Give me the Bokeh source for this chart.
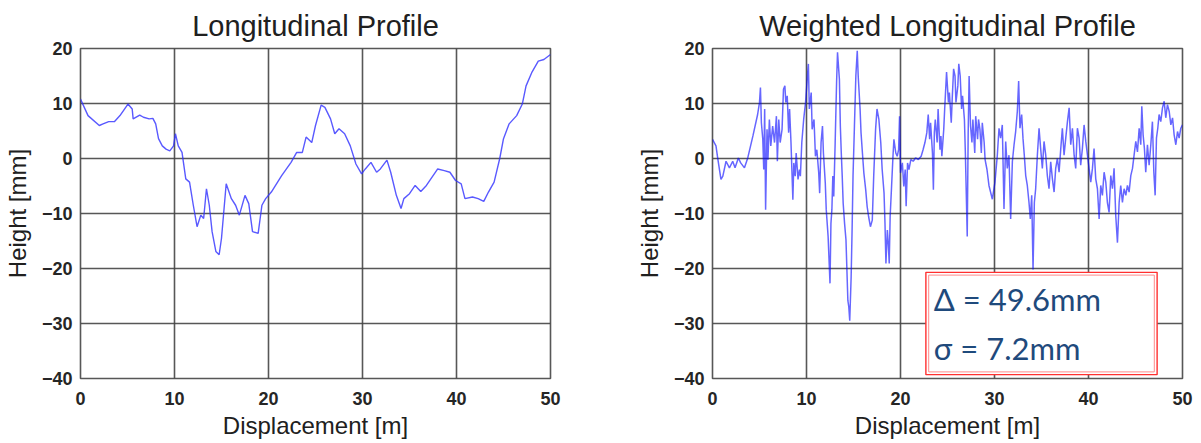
from bokeh.plotting import figure
from bokeh.layouts import row
from bokeh.models import FixedTicker, BoxAnnotation, Label, Range1d
from bokeh.embed import file_html
from bokeh.resources import INLINE

# ---------------- data ----------------
x_ticks = [0, 10, 20, 30, 40, 50]
y_ticks = [-40, -30, -20, -10, 0, 10, 20]
titles = ["Longitudinal Profile", "Weighted Longitudinal Profile"]
x_label = "Displacement [m]"
y_label = "Height [mm]"
stats = ["\u0394 = 49.6mm", "\u03c3 = 7.2mm"]

# Longitudinal profile
lp_x = [0, 0.8, 2.0, 2.4, 3.0, 3.6, 4.2, 5.05, 5.5, 5.6, 6.3, 6.7, 7.3, 7.7, 8.0, 8.3,
        8.7, 9.1, 9.5, 9.9, 10.1, 10.4, 10.8, 11.2, 11.6, 12.0, 12.4, 12.8, 13.1, 13.4,
        13.7, 14.0, 14.4, 14.75, 15.0, 15.5, 16.05, 16.5, 16.9, 17.5, 17.9, 18.3, 18.9,
        19.3, 19.7, 20.3, 21.4, 22.4, 23.0, 23.6, 24.0, 24.6, 25.0, 25.6, 26.0, 26.6,
        27.05, 27.5, 28.1, 28.7, 29.3, 29.9, 30.3, 30.9, 31.5, 31.9, 32.6, 33.0, 33.6,
        34.1, 34.4, 35.0, 35.6, 36.2, 36.8, 37.4, 38.0, 38.7, 39.3, 39.9, 40.5, 40.9,
        41.7, 42.3, 42.9, 43.4, 44.0, 44.6, 45.0, 45.6, 46.4, 47.0, 47.4, 48.0, 48.7,
        49.3, 50.0]
lp_y = [10.8, 7.8, 6.0, 6.3, 6.7, 6.7, 7.8, 9.9, 9.0, 7.2, 7.9, 7.5, 7.2, 7.3, 6.3, 3.6,
        2.3, 1.7, 1.4, 2.3, 4.5, 2.3, 1.1, -3.7, -4.3, -8.5, -12.4, -10.3, -10.9, -5.5,
        -8.5, -13.3, -16.9, -17.5, -14.5, -4.6, -7.3, -8.5, -10.3, -6.7, -8.2, -13.3, -13.6,
        -8.5, -7.3, -6.1, -3.1, -0.7, 1.1, 1.1, 3.9, 2.9, 6.0, 9.7, 9.3, 7.2,
        4.5, 5.4, 4.5, 2.3, -1.0, -2.8, -1.9, -0.7, -2.5, -1.9, -0.3, -2.5, -6.7,
        -9.1, -7.3, -6.4, -4.9, -6.0, -4.9, -3.4, -1.9, -2.2, -2.5, -4.0, -4.6, -7.3,
        -7.0, -7.3, -7.8, -6.1, -4.3, 0.0, 3.6, 6.3, 7.8, 9.9, 13.2, 15.6, 17.7,
        18.0, 18.9]

# Weighted longitudinal profile
wp_x = [0.0, 0.37, 0.55, 0.9, 1.1, 1.44, 1.8, 2.15, 2.4, 2.75, 3.0, 3.4, 3.75, 4.3, 4.8,
        5.0, 5.1, 5.2, 5.35, 5.45, 5.55, 5.65, 5.8, 5.9, 6.05, 6.2, 6.4, 6.6, 6.8, 6.9,
        7.05, 7.2, 7.4, 7.55, 7.7, 7.8, 7.95, 8.1, 8.2, 8.35, 8.55, 8.65, 8.8, 8.9, 9.1,
        9.25, 9.35, 9.5, 9.7, 9.9, 10.1, 10.2, 10.3, 10.5, 10.6, 10.8, 10.95, 11.1, 11.3,
        11.4, 11.55, 11.7, 11.8, 12.0, 12.1, 12.3, 12.4, 12.5, 12.6, 12.7, 12.8, 12.9,
        13.05, 13.2, 13.3, 13.5, 13.6, 13.7, 13.8, 13.9, 14.05, 14.2, 14.3, 14.4, 14.5,
        14.6, 14.75, 14.85, 14.95, 15.1, 15.25, 15.4, 15.5, 15.7, 15.8, 15.95, 16.1, 16.3,
        16.45, 16.6, 16.8, 17.0, 17.15, 17.35, 17.5, 17.7, 17.9, 18.05, 18.25, 18.35,
        18.45, 18.6, 18.7, 18.8, 18.9, 19.05, 19.2, 19.3, 19.5, 19.65, 19.8,
        19.9, 20.0, 20.2, 20.35, 20.5, 20.6, 20.75, 20.9, 21.1, 21.35, 21.6, 21.9, 22.2,
        22.4, 22.6, 22.8, 22.95, 23.1, 23.2, 23.4, 23.5, 23.6, 23.7, 23.9, 24.0, 24.2,
        24.3, 24.4, 24.6, 24.7, 24.9, 25.1, 25.2, 25.4, 25.5, 25.65, 25.8, 25.9, 26.1,
        26.2, 26.35, 26.5, 26.6, 26.8, 26.9, 27.1, 27.2, 27.3, 27.45, 27.6, 27.7, 27.9,
        28.0, 28.2, 28.3, 28.45, 28.6, 28.7, 28.9, 29.0, 29.2, 29.41, 29.77,
        30.05, 30.3, 30.48, 30.65, 30.83, 31.01, 31.19, 31.36, 31.54, 31.72, 31.9, 32.08,
        32.25, 32.43, 32.57, 32.71, 32.89, 33.03, 33.17, 33.32, 33.49, 33.67, 33.81,
        33.96, 34.1, 34.24, 34.38, 34.56, 34.74, 34.91, 35.09, 35.27, 35.45, 35.62, 35.8,
        35.98, 36.16, 36.34, 36.51, 36.69, 36.87, 37.05, 37.22, 37.4, 37.58, 37.76,
        37.94, 38.11, 38.29, 38.47, 38.64, 38.82, 39.0, 39.17, 39.35, 39.53, 39.71,
        39.89, 40.06, 40.24, 40.42, 40.59, 40.77, 40.95, 41.13, 41.3, 41.48, 41.66,
        41.84, 42.01, 42.19, 42.37, 42.55, 42.72, 42.9, 43.08, 43.26, 43.43, 43.61,
        43.79, 43.97, 44.14, 44.32, 44.5, 44.68, 44.85, 45.03, 45.21, 45.39, 45.56,
        45.67, 45.81, 45.95, 46.09, 46.27, 46.45, 46.63, 46.8, 46.95, 47.09, 47.23,
        47.37, 47.51, 47.69, 47.87, 48.05, 48.22, 48.4, 48.58, 48.76, 48.94, 49.11,
        49.29, 49.47, 49.64, 49.82, 50.0]
wp_y = [3.5, 2.3, 0.1, -3.8, -3.2, -0.5, -1.7, -0.5, -1.7, 0.1, -0.8, -1.7, 0.1, 4.1, 8.0,
        10.2, 12.9, 6.5, 3.5, -2.0, 9.0, -9.3, 5.3, -0.2, 7.1, 2.3, 5.9, 2.9, 7.7, -0.5,
        7.1, 2.9, 5.3, 12.6, 13.2, 10.2, 11.4, 4.7, 9.0, 2.9, -7.5, -0.8, -3.2, 1.0, -3.8,
        -2.0, -3.2, 2.9, 7.1, 10.2, 15.0, 17.2, 9.0, 12.0, 5.3, 7.1, 0.4, 1.6, -2.6,
        -6.3, 2.9, 5.9, 1.0, -4.5, -9.3, -14.2, -18.5, -22.7, -11.8, -9.3, -3.2, -6.9,
        2.9, 13.8, 19.3, 14.4, 5.9, 1.0, -3.2, -8.1, -11.8, -14.8, -20.3, -25.8, -27.0,
        -29.5, -21.5, -13.0, -3.2, 5.9, 15.0, 19.6, 15.0, 9.0, 4.7, 1.0, -2.6, -5.7,
        -8.7, -10.5, -12.4, -11.2, -3.2, 5.3, 9.0, 7.1, 2.9, -2.0, -6.3, -11.8,
        -19.1, -13.0, -15.4, -19.1, -10.5, -5.1, 0.4, 3.5, 1.0, 0.4, 1.6,
        7.7, -2.6, -0.8, -5.1, -2.0, -8.7, -0.8, -2.0, -0.2, -0.5, 0.1, -0.2, 0.4,
        1.6, 2.9, 4.7, 8.0, 3.5, 6.5, 1.0, -5.7, 4.7, 7.1, 2.9, 9.0, 1.6,
        4.1, 0.4, 5.3, 9.0, 15.7, 10.2, 12.0, 6.5, 10.8, 16.3, 15.0, 10.2, 13.2,
        17.2, 15.0, 9.0, 11.4, 7.1, 1.0, -14.2, 4.7, 15.0, 5.9, 2.9, 7.1, 1.0,
        7.7, 3.5, 7.1, 5.3, 1.0, 6.5, 2.9, -0.2, -2.0, -4.9, -7.4,
        -4.3, 0.6, 5.5, 3.7, 6.1, -9.2, 3.1, -1.8, 0.6, -11.0, -0.6, 2.5,
        4.9, 8.6, 14.1, 5.5, 8.0, 3.7, 0.6, -3.1, -4.9, -8.0, -11.0,
        -6.7, -20.2, -8.0, -5.5, 0.6, 5.5, 1.8, -1.8, 3.1, 0.6, -3.1, -5.5,
        -0.6, -3.7, -6.1, -1.8, 0.0, -2.5, 1.8, 5.5, 0.6, 3.7, 6.7,
        9.2, 2.5, 5.5, 0.6, -1.8, 5.5, 3.7, -1.2, 1.8, 6.1, 3.1,
        0.6, -1.8, -4.3, -1.8, 1.8, -3.7, -5.5, -11.0, -4.9, -6.7, -2.5,
        -4.3, -8.0, -9.8, -3.1, -5.5, -1.8, -10.4, -15.3, -8.0, -4.9, -8.0,
        -5.5, -6.7, -4.9, -6.1, -3.1, -1.8, 0.6, 3.1, 1.2, 5.5, 2.5,
        9.5, 4.3, 1.8, -2.5, 2.5, -1.2, 2.5, 6.7, -2.5, -6.7, 3.7,
        5.5, 8.0, 6.7, 9.2, 10.4, 7.4, 9.8, 8.6, 6.1, 7.4, 4.3,
        2.5, 4.9, 3.7, 5.5, 6.1]

# ---------------- styling / layout ----------------
FONT = "Liberation Sans"
GRID = "#454545"


def make_fig(title, border_left, border_right):
    p = figure(output_backend="svg", toolbar_location=None,
               frame_width=470, frame_height=330,
               min_border_left=border_left, min_border_right=border_right,
               min_border_top=48, min_border_bottom=50,
               x_range=Range1d(0, 50), y_range=Range1d(-40, 20),
               title=title, background_fill_color="white", border_fill_color="white")
    p.title.align = "center"
    p.title.text_font = FONT
    p.title.text_font_size = "29px"
    p.title.text_font_style = "normal"
    p.title.text_color = "#202020"
    p.title.standoff = 13

    for ax, ticks in ((p.xaxis, x_ticks), (p.yaxis, y_ticks)):
        ax.ticker = FixedTicker(ticks=ticks)
        ax.major_tick_line_color = None
        ax.major_tick_out = 0
        ax.major_tick_in = 0
        ax.minor_tick_line_color = None
        ax.minor_tick_out = 0
        ax.minor_tick_in = 0
        ax.axis_line_color = None
        ax.major_label_text_font = FONT
        ax.major_label_text_font_size = "18px"
        ax.major_label_text_font_style = "bold"
        ax.major_label_text_color = "#262626"
        ax.axis_label_text_font = FONT
        ax.axis_label_text_font_size = "24px"
        ax.axis_label_text_font_style = "normal"
        ax.axis_label_text_color = "#202020"
    p.xaxis.axis_label = x_label
    p.yaxis.axis_label = y_label
    p.xaxis.major_label_standoff = 13
    p.xaxis.axis_label_standoff = 4
    p.yaxis.major_label_standoff = 8
    p.yaxis.axis_label_standoff = 8

    p.xgrid.ticker = FixedTicker(ticks=x_ticks)
    p.ygrid.ticker = FixedTicker(ticks=y_ticks)
    for g in (p.xgrid, p.ygrid):
        g.grid_line_color = GRID
        g.grid_line_width = 1.6
        g.grid_line_alpha = 0.9
    p.outline_line_color = GRID
    p.outline_line_width = 1.6
    p.outline_line_alpha = 0.9
    return p


p1 = make_fig(titles[0], 73, 82)
p1.line(lp_x, lp_y, line_color="#3030ff", line_width=1.4, line_alpha=0.8)

p2 = make_fig(titles[1], 73, 17)
p2.line(wp_x, wp_y, line_color="#0000ff", line_width=1.5, line_alpha=0.6)

# statistics box (positions in data units of the right panel)
outer = BoxAnnotation(left=22.7, right=47.3, top=-20.7, bottom=-39.3,
                      fill_color="white", fill_alpha=1.0,
                      line_color="#ff3030", line_width=1.4, line_alpha=1.0)
inner = BoxAnnotation(left=23.0, right=47.0, top=-21.2, bottom=-38.8,
                      fill_alpha=0.0, line_color="#ff8a8a", line_width=1.0, line_alpha=1.0)
p2.add_layout(outer)
p2.add_layout(inner)
for txt, yy in zip(stats, [-25.6, -34.4]):
    p2.add_layout(Label(x=23.55, y=yy, text=txt, text_font="Lato", text_font_size="31px",
                        text_color="#1f4a7c", text_baseline="alphabetic", text_align="left"))

layout = row(p1, p2)
open("out.html", "w").write(file_html(layout, INLINE))
